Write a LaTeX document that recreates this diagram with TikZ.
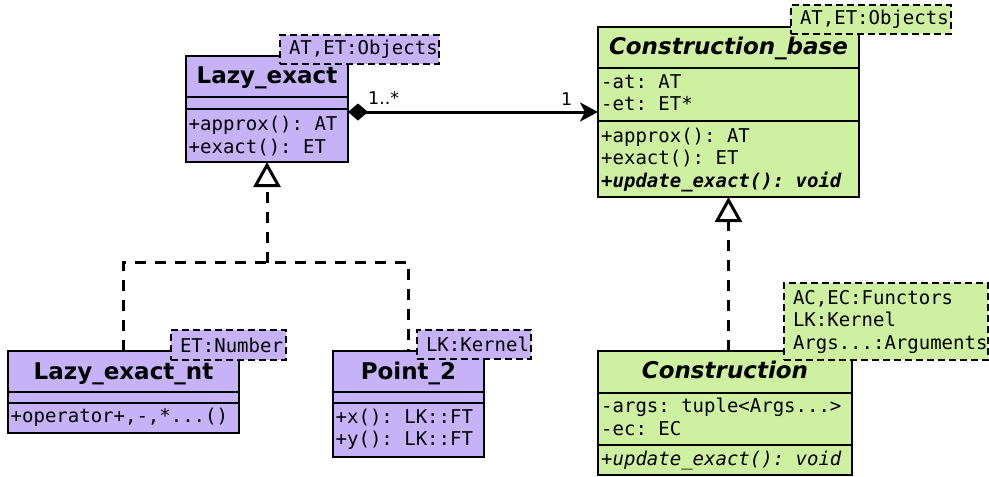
\documentclass[tikz,border=0pt]{standalone}
\usepackage{fontspec}
\setmainfont{DejaVu Sans}
\setmonofont{DejaVu Sans Mono}
\usetikzlibrary{arrows.meta}
\definecolor{lav}{RGB}{198,178,246}
\definecolor{lime}{RGB}{206,240,161}
\hbadness=10000 \hfuzz=50pt
\begin{document}
\begin{tikzpicture}[x=1pt,y=-1pt,
  classbox/.style={draw=black, line width=1.3pt, anchor=north west, inner sep=0pt, outer sep=0pt},
  sepline/.style={draw=black, line width=1.3pt},
  titletxt/.style={anchor=base, inner sep=0pt, font=\fontsize{23}{27}\selectfont\bfseries},
  abstitle/.style={titletxt, font=\fontsize{23}{27}\selectfont\bfseries\itshape},
  member/.style={anchor=base west, inner sep=0pt, font=\fontsize{19}{22.5}\selectfont\ttfamily},
  tmpl/.style={draw=black, line width=1.5pt, dash pattern=on 7pt off 4pt, inner ysep=0pt, inner xsep=9pt,
    outer sep=0pt, anchor=north west, align=left, font=\fontsize{19}{22.5}\selectfont\ttfamily},
  conn/.style={draw=black, line width=3pt},
  realize/.style={conn, dash pattern=on 11pt off 9pt},
  mult/.style={anchor=base west, inner sep=0pt, font=\fontsize{17.5}{20}\selectfont}
]
\useasboundingbox (0,0) rectangle (989,477);

% ---------- Lazy_exact ----------
\node[classbox, fill=lav, minimum width=162pt, minimum height=106pt] (le) at (186,56) {};
\draw[sepline] (le.west |- 0,97) -- (le.east |- 0,97);
\draw[sepline] (le.west |- 0,109) -- (le.east |- 0,109);
\node[titletxt] (le-t) at (267,83) {Lazy\_exact};
\node[member] (le-m1) at (188.5,130) {+approx(): AT};
\node[member] (le-m2) at (188.5,153) {+exact(): ET};
\node[tmpl, fill=lav, minimum width=159pt, text width=141pt, minimum height=29pt] (le-tp) at (280,35) {AT,ET:Objects};

% ---------- Construction_base ----------
\node[classbox, fill=lime, minimum width=261pt, minimum height=170pt] (cb) at (598,27) {};
\draw[sepline] (cb.west |- 0,68) -- (cb.east |- 0,68);
\draw[sepline] (cb.west |- 0,121) -- (cb.east |- 0,121);
\node[abstitle] (cb-t) at (728.5,54) {Construction\_base};
\node[member] (cb-a1) at (601,88) {-at: AT};
\node[member] (cb-a2) at (601,110.5) {-et: ET*};
\node[member] (cb-m1) at (601,142) {+approx(): AT};
\node[member] (cb-m2) at (601,164.5) {+exact(): ET};
\node[member, font=\fontsize{19}{22.5}\selectfont\ttfamily\bfseries\itshape] (cb-m3) at (601,187) {+update\_exact(): void};
\node[tmpl, fill=lime, minimum width=160pt, text width=142pt, minimum height=29pt] (cb-tp) at (791,5) {AT,ET:Objects};

% ---------- Lazy_exact_nt ----------
\node[classbox, fill=lav, minimum width=231pt, minimum height=82pt] (lent) at (8,351) {};
\draw[sepline] (lent.west |- 0,392) -- (lent.east |- 0,392);
\draw[sepline] (lent.west |- 0,403) -- (lent.east |- 0,403);
\node[titletxt] (lent-t) at (123.5,379) {Lazy\_exact\_nt};
\node[member] (lent-m1) at (10.5,422) {+operator+,-,*...()};
\node[tmpl, fill=lav, minimum width=115pt, text width=97pt, minimum height=30pt] (lent-tp) at (171,330) {ET:Number};

% ---------- Point_2 ----------
\node[classbox, fill=lav, minimum width=151pt, minimum height=106pt] (p2) at (333,351) {};
\draw[sepline] (p2.west |- 0,392) -- (p2.east |- 0,392);
\draw[sepline] (p2.west |- 0,403) -- (p2.east |- 0,403);
\node[titletxt] (p2-t) at (408.5,379) {Point\_2};
\node[member] (p2-m1) at (335.5,423) {+x(): LK::FT};
\node[member] (p2-m2) at (335.5,445) {+y(): LK::FT};
\node[tmpl, fill=lav, minimum width=114pt, text width=96pt, minimum height=29pt] (p2-tp) at (417,330) {LK:Kernel};

% ---------- Construction ----------
\node[classbox, fill=lime, minimum width=254pt, minimum height=124pt] (cn) at (598,351) {};
\draw[sepline] (cn.west |- 0,393) -- (cn.east |- 0,393);
\draw[sepline] (cn.west |- 0,445) -- (cn.east |- 0,445);
\node[abstitle] (cn-t) at (725,378) {Construction};
\node[member] (cn-a1) at (601,412) {-args: tuple<Args...>};
\node[member] (cn-a2) at (601,435) {-ec: EC};
\node[member, font=\fontsize{19}{22.5}\selectfont\ttfamily\itshape] (cn-m1) at (601,465) {+update\_exact(): void};
\node[tmpl, fill=lime, minimum width=204pt, text width=186pt, minimum height=77pt] (cn-tp) at (784,283)
  {AC,EC:Functors\\LK:Kernel\\Args...:Arguments};

% ---------- connectors ----------
\draw[conn, {Diamond[length=20pt,width=17pt]}-{Stealth[length=18pt,width=19pt,inset=5pt]}]
  (le.east |- cb.west) -- (cb.west);
\node[mult] (m-many) at (368,104) {1..*};
\node[mult] (m-one) at (561,105) {1};

\coordinate (j) at (le.south |- 0,262.5);
\draw[realize, -{Triangle[open,length=25pt,width=27pt]}] (j) -- (le.south);
\draw[realize] (lent.north) -- (lent.north |- j) -- (p2.north |- j) -- (p2.north);
\draw[realize, -{Triangle[open,length=25pt,width=27pt]}] (cb.south |- cn.north) -- (cb.south);
\end{tikzpicture}
\end{document}
